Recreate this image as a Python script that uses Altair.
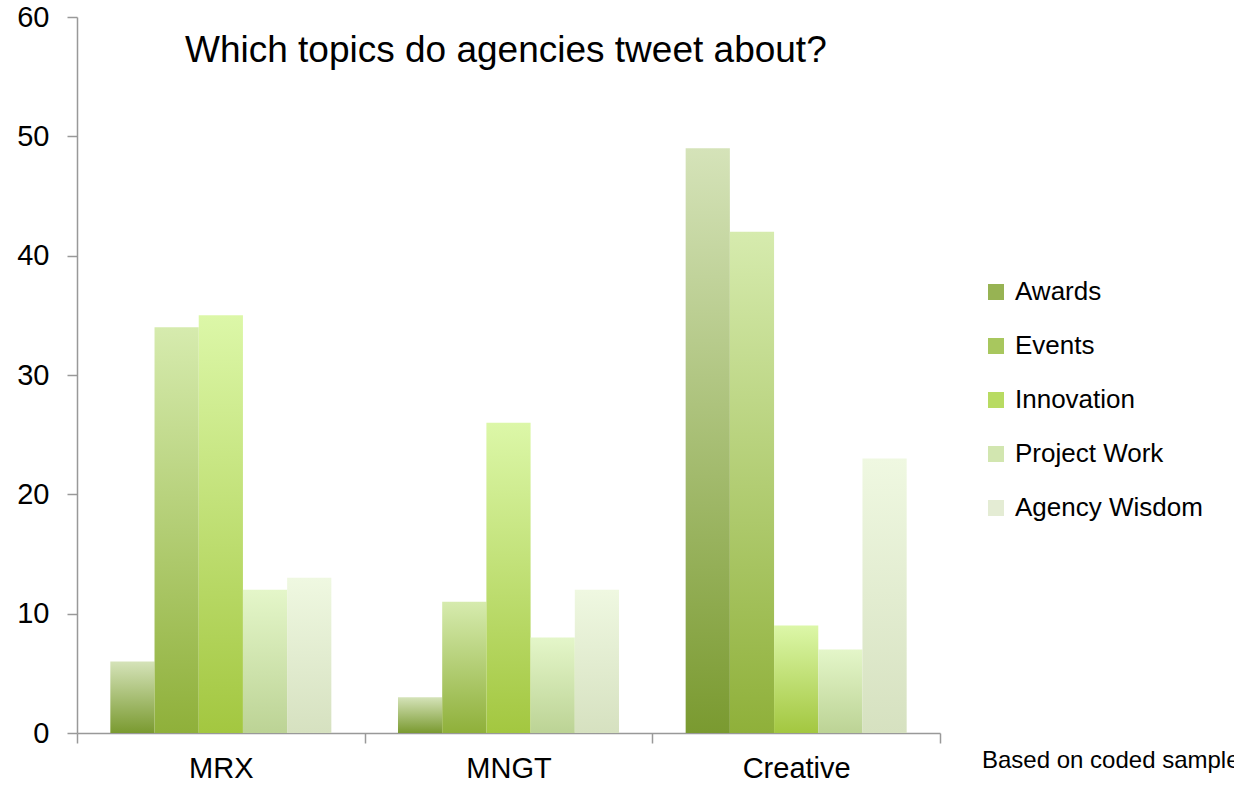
import altair as alt
import pandas as pd

categories = ["MRX", "MNGT", "Creative"]
series = ["Awards", "Events", "Innovation", "Project Work", "Agency Wisdom"]
awards = [6, 3, 49]
events = [34, 11, 42]
innovation = [35, 26, 9]
project_work = [12, 8, 7]
agency_wisdom = [13, 12, 23]

# gradient (top, bottom) per series
grad_top = ["#d5e3b9", "#d6ebae", "#dcf7a8", "#e4f6c9", "#eff8e1"]
grad_bottom = ["#7a9a30", "#8fb03a", "#a3c740", "#bcd395", "#d6e1c0"]
legend_colors = ["#97b353", "#a8c75e", "#b8db62", "#d2e6b0", "#e4ecd4"]

values = [awards, events, innovation, project_work, agency_wisdom]
rows = []
for s, vals in zip(series, values):
    for c, v in zip(categories, vals):
        rows.append({"category": c, "series": s, "value": v})
df = pd.DataFrame(rows)

FONT = "Liberation Sans"

x_enc = alt.X("category:N", sort=categories,
              scale=alt.Scale(paddingInner=0, paddingOuter=0),
              axis=alt.Axis(title=None, labelAngle=0, tickBand="extent"))
xo_enc = alt.XOffset("series:N", scale=alt.Scale(domain=series, paddingInner=0, paddingOuter=0.754))
y_enc = alt.Y("value:Q", scale=alt.Scale(domain=[0, 60], nice=False),
              axis=alt.Axis(title=None, values=[0, 10, 20, 30, 40, 50, 60], grid=False))

layers = []
for i, s in enumerate(series):
    grad = alt.Gradient(
        gradient="linear",
        stops=[alt.GradientStop(color=grad_top[i], offset=0),
               alt.GradientStop(color=grad_bottom[i], offset=1)],
        x1=1, x2=1, y1=0, y2=1,
    )
    layers.append(
        alt.Chart(df).transform_filter(alt.datum.series == s)
        .mark_bar(color=grad, strokeWidth=0)
        .encode(x=x_enc, xOffset=xo_enc, y=y_enc)
    )

legend_layer = alt.Chart(df).mark_square(opacity=0).encode(
    x=x_enc, xOffset=xo_enc, y=y_enc,
    color=alt.Color("series:N", sort=series,
                    scale=alt.Scale(domain=series, range=legend_colors),
                    legend=alt.Legend(title=None, orient="none", legendX=906, legendY=262,
                                      symbolType="square", symbolSize=256,
                                      symbolOpacity=1, symbolStrokeWidth=0,
                                      labelFontSize=26, labelFont=FONT, labelColor="#000000",
                                      labelLimit=400,
                                      rowPadding=28, labelOffset=6, padding=0)),
)

one = pd.DataFrame({"t": [0]})
title_layer = alt.Chart(one).mark_text(
    align="left", baseline="alphabetic", fontSize=37, font=FONT, color="#000000"
).encode(x=alt.value(108), y=alt.value(45), text=alt.value("Which topics do agencies tweet about?"))

note_layer = alt.Chart(one).mark_text(
    align="left", baseline="alphabetic", fontSize=24, font=FONT, color="#000000"
).encode(x=alt.value(905), y=alt.value(751), text=alt.value("Based on coded sample"))

chart = alt.layer(*layers, legend_layer, title_layer, note_layer).properties(
    width=863, height=716,
    autosize=alt.AutoSizeParams(type="none"),
    padding={"left": 77, "top": 17, "right": 294, "bottom": 53},
    background="white",
).configure_view(stroke=None).configure_axis(
    labelFont=FONT, labelColor="#000000",
    domainColor="#999999", domainWidth=1.5, tickColor="#999999", tickWidth=1.5,
    tickSize=10,
).configure_axisY(labelFontSize=29, labelPadding=18).configure_axisX(
    labelFontSize=29, labelPadding=11)

chart.save("out.html", embed_options={"renderer": "svg", "actions": False})
